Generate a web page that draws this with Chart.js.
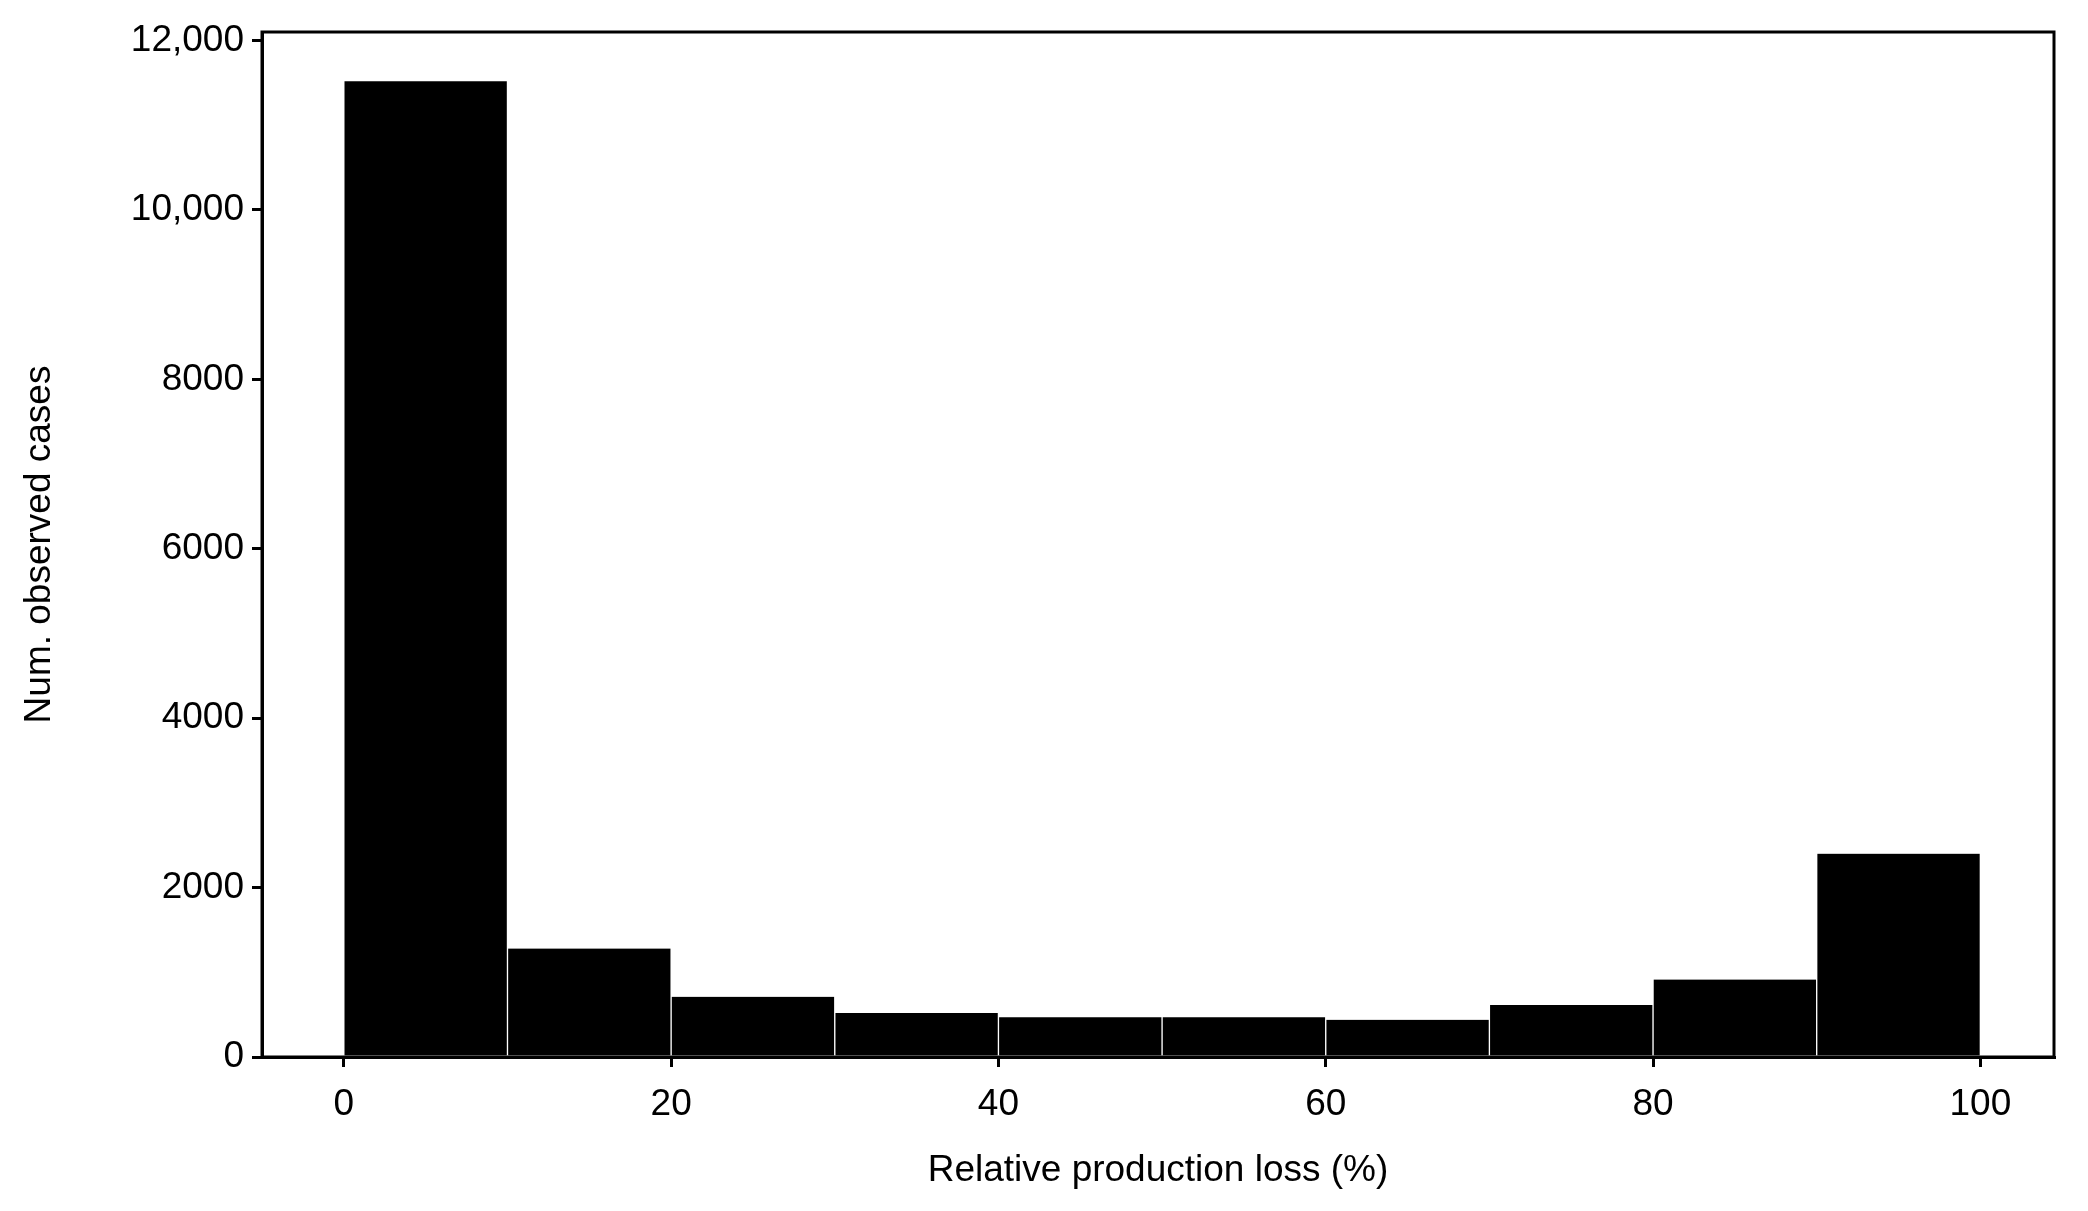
<!DOCTYPE html>
<html>
<head>
<meta charset="utf-8">
<script src="https://cdn.jsdelivr.net/npm/chart.js@4"></script>
<style>
  html, body { margin: 0; padding: 0; background: #fff; }
  #wrap { width: 2088px; height: 1211px; }
</style>
</head>
<body>
<div id="wrap"><canvas id="grafico" width="2088" height="1211"></canvas></div>
<script>
  // bin centers (%) and counts
  const binCenters = [5, 15, 25, 35, 45, 55, 65, 75, 85, 95];
  const counts = [11520, 1280, 710, 520, 470, 470, 440, 615, 915, 2400];
  const xTicks = [0, 20, 40, 60, 80, 100];
  const yTicks = [0, 2000, 4000, 6000, 8000, 10000, 12000];

  const fonte = { family: "'Liberation Sans', Arial, sans-serif", size: 37 };

  // box around plot area
  const moldura = {
    id: "moldura",
    afterDraw(chart) {
      const { ctx, chartArea: a } = chart;
      ctx.save();
      ctx.strokeStyle = "#000";
      ctx.lineWidth = 3;
      ctx.strokeRect(a.left, a.top, a.right - a.left, a.bottom - a.top);
      ctx.restore();
    },
  };

  new Chart(document.getElementById("grafico"), {
    type: "bar",
    data: {
      datasets: [
        {
          data: binCenters.map((x, i) => ({ x: x, y: counts[i] })),
          backgroundColor: "#000",
          borderColor: "#fff",
          borderWidth: { left: 1, right: 1 },
          barPercentage: 1,
          categoryPercentage: 1,
        },
      ],
    },
    options: {
      responsive: false,
      animation: false,
      devicePixelRatio: 1,
      layout: { padding: { left: 14, top: 32, right: 34, bottom: 18 } },
      plugins: { legend: { display: false }, tooltip: { enabled: false } },
      scales: {
        x: {
          type: "linear",
          offset: false,
          min: -5,
          max: 104.5,
          afterBuildTicks: (s) => { s.ticks = xTicks.map((v) => ({ value: v })); },
          afterFit: (s) => { s.height = 136; },
          grid: { offset: false, drawOnChartArea: false, tickLength: 10, color: "#000", lineWidth: 3 },
          border: { color: "#000", width: 3 },
          ticks: { color: "#000", font: fonte, padding: 16, maxRotation: 0 },
          title: { display: true, text: "Relative production loss (%)", color: "#000", font: fonte, padding: { top: 8, bottom: 0 } },
        },
        y: {
          min: 0,
          max: 12100,
          afterBuildTicks: (s) => { s.ticks = yTicks.map((v) => ({ value: v })); },
          afterFit: (s) => { s.width = 248; },
          grid: { drawOnChartArea: false, tickLength: 10, color: "#000", lineWidth: 3 },
          border: { color: "#000", width: 3 },
          ticks: {
            color: "#000",
            font: fonte,
            padding: 8,
            callback: (v) => (v >= 10000 ? v.toLocaleString("en-US") : String(v)),
          },
          title: { display: true, text: "Num. observed cases", color: "#000", font: fonte, padding: { bottom: 10 } },
        },
      },
    },
    plugins: [moldura],
  });
</script>
</body>
</html>
